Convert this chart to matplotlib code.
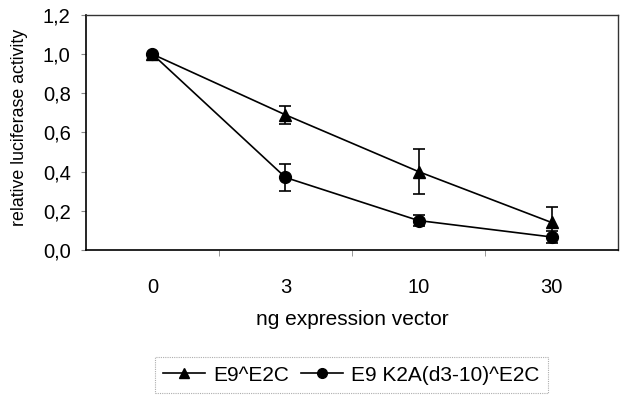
import matplotlib
matplotlib.use('Agg')
import matplotlib.pyplot as plt
from matplotlib.lines import Line2D
from matplotlib.ticker import FixedLocator, FuncFormatter

doses = ["0", "3", "10", "30"]
wt_mean = [1.0, 0.69, 0.40, 0.14]
wt_err = [0.0, 0.045, 0.115, 0.08]
mut_mean = [1.0, 0.37, 0.15, 0.066]
mut_err = [0.0, 0.07, 0.03, 0.03]
labels = ["E9^E2C", "E9 K2A(d3-10)^E2C"]

plt.rcParams['font.family'] = ['Liberation Sans', 'DejaVu Sans']

fig = plt.figure(figsize=(6.23, 3.96), dpi=100)
ax = fig.add_axes([0.138, 0.369, 0.854, 0.593])

x = list(range(len(doses)))
ax.errorbar(x, wt_mean, yerr=wt_err, color="black", marker="^", markersize=8.5,
            lw=1.2, capsize=4, elinewidth=1.2, capthick=1.2)
ax.errorbar(x, mut_mean, yerr=mut_err, color="black", marker="o", markersize=8.5,
            lw=1.2, capsize=4, elinewidth=1.2, capthick=1.2)

ax.set_xlim(-0.5, len(doses) - 0.5)
ax.set_ylim(0, 1.2)
ax.set_xticks(x)
ax.set_xticklabels(doses)
ax.xaxis.set_minor_locator(FixedLocator([0.5, 1.5, 2.5]))
ax.tick_params(axis="x", which="major", length=0, pad=20, labelsize=14.5)
ax.tick_params(axis="x", which="minor", length=4, direction="out", color="#888888")
ax.set_yticks([0, 0.2, 0.4, 0.6, 0.8, 1.0, 1.2])
ax.yaxis.set_major_formatter(FuncFormatter(lambda v, p: f"{v:.1f}".replace(".", ",")))
ax.tick_params(axis="y", length=3.5, direction="out", labelsize=14.5, color="#888888", pad=7.5)

for s in ["left", "bottom"]:
    ax.spines[s].set_linewidth(1.2)
for s in ["top", "right"]:
    ax.spines[s].set_linewidth(1.0)
    ax.spines[s].set_color("#333333")

ax.set_xlabel("ng expression vector", fontsize=15)
ax.xaxis.set_label_coords(0.5, (250 - 320) / 235)
ax.set_ylabel("relative luciferase activity", fontsize=12.8)
ax.yaxis.set_label_coords((20 - 86) / 532, (250 - 127) / 235)
ax.yaxis.label.set_va("center")
ax.xaxis.label.set_va("center")

handles = [Line2D([0], [0], color="black", marker="^", markersize=7, lw=1.2),
           Line2D([0], [0], color="black", marker="o", markersize=7, lw=1.2)]
leg = fig.legend(handles, labels, loc="upper center", bbox_to_anchor=(0.564, 0.098),
                 ncol=2, fontsize=15, frameon=True, fancybox=False, handlelength=2.0,
                 handletextpad=0.4, columnspacing=0.6, borderpad=0.4,
                 borderaxespad=0)
leg.get_frame().set_edgecolor("#999999")
leg.get_frame().set_linestyle((0, (1, 1)))
leg.get_frame().set_linewidth(0.8)

plt.savefig("out.png", dpi=100)
